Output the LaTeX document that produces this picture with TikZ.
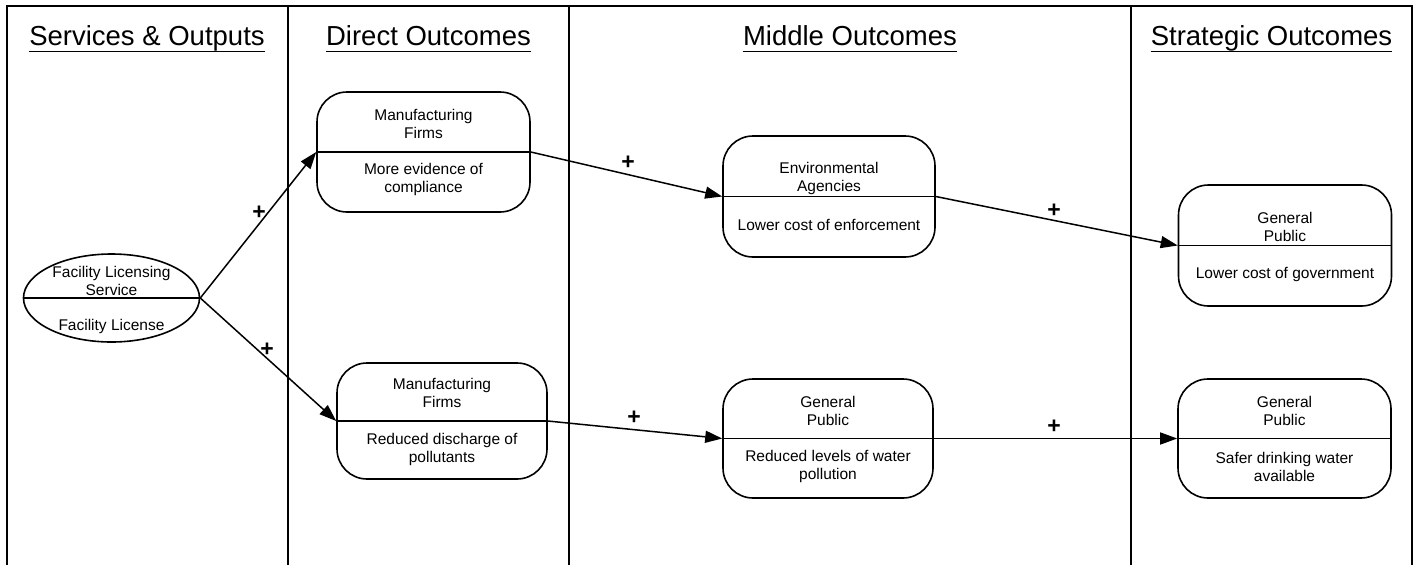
\documentclass[tikz,border=0pt]{standalone}
\usepackage{fontspec}
\setmainfont{Liberation Sans}
\usetikzlibrary{arrows.meta,calc,shapes.geometric}
\begin{document}
\begin{tikzpicture}[x=1pt,y=-1pt,
  frame/.style={line width=1.8pt},
  head/.style={font=\fontsize{27.5}{30}\selectfont, inner sep=0pt, anchor=base},
  box/.style={draw, line width=1.6pt, rounded corners=30pt, inner sep=0pt},
  oval/.style={draw, line width=1.6pt, ellipse, inner sep=0pt},
  split/.style={line width=1.5pt},
  txt/.style={font=\fontsize{15.5}{18}\selectfont, align=center, inner sep=0pt},
  link/.style={line width=1.5pt, -{Triangle[length=17pt,width=12pt]}},
  sign/.style={font=\bfseries\fontsize{23}{23}\selectfont, inner sep=0pt}]

\useasboundingbox (0,0) rectangle (1416,565);

% swim-lane frame
\coordinate (tl) at (7,6);
\coordinate (tr) at (1412,6);
\coordinate (bl) at (7,565);
\coordinate (br) at (1412,565);
\draw[frame] (bl) -- (tl) -- (tr) -- (br);
\foreach \x/\n in {288/a,569/b,1131/c}{
  \coordinate (lane\n top) at (\x,6);
  \coordinate (lane\n bot) at (\x,565);
  \draw[frame] (lane\n top) -- (lane\n bot);
}

% lane headings
\node[head] (h1) at (147,45) {Services \& Outputs};
\node[head] (h2) at (428.5,45) {Direct Outcomes};
\node[head] (h3) at (850,45) {Middle Outcomes};
\node[head] (h4) at (1271.5,45) {Strategic Outcomes};
\foreach \h in {h1,h2,h3,h4}{
  \draw[line width=1.3pt] ($(\h.base west)+(0,6.5)$) -- ($(\h.base east)+(0,6.5)$);
}

% service (ellipse)
\node[oval, minimum width=176pt, minimum height=88pt] (svc) at (111.5,298) {};
\draw[split] (svc.west) -- (svc.east);
\node[txt] (svcA) at ($(svc.center)+(0,-17)$) {Facility Licensing\\Service};
\node[txt] (svcB) at ($(svc.center)+(0,28)$) {Facility License};

% direct outcomes
\node[box, minimum width=213pt, minimum height=120pt] (mf1) at (423.5,152) {};
\draw[split] (mf1.west) -- (mf1.east);
\node[txt] (mf1A) at ($(mf1.center)+(0,-28)$) {Manufacturing\\Firms};
\node[txt] (mf1B) at ($(mf1.center)+(0,27)$) {More evidence of\\compliance};

\node[box, minimum width=210pt, minimum height=116pt] (mf2) at (442,421) {};
\draw[split] (mf2.west) -- (mf2.east);
\node[txt] (mf2A) at ($(mf2.center)+(0,-28)$) {Manufacturing\\Firms};
\node[txt] (mf2B) at ($(mf2.center)+(0,28)$) {Reduced discharge of\\pollutants};

% middle outcomes
\node[box, minimum width=212pt, minimum height=121pt] (ea) at (829,196.5) {};
\draw[split] (ea.west) -- (ea.east);
\node[txt] (eaA) at ($(ea.center)+(0,-18)$) {Environmental\\Agencies};
\node[txt] (eaB) at ($(ea.center)+(0,28)$) {Lower cost of enforcement};

\node[box, minimum width=210pt, minimum height=119pt] (gp2) at (828,438.5) {};
\draw[split] (gp2.west) -- (gp2.east);
\node[txt] (gp2A) at ($(gp2.center)+(0,-27.5)$) {General\\Public};
\node[txt] (gp2B) at ($(gp2.center)+(0,28)$) {Reduced levels of water\\pollution};

% strategic outcomes
\node[box, minimum width=213pt, minimum height=121pt] (gp1) at (1285,245.5) {};
\draw[split] (gp1.west) -- (gp1.east);
\node[txt] (gp1A) at ($(gp1.center)+(0,-19)$) {General\\Public};
\node[txt] (gp1B) at ($(gp1.center)+(0,29)$) {Lower cost of government};

\node[box, minimum width=213pt, minimum height=119pt] (gp3) at (1284.5,438.5) {};
\draw[split] (gp3.west) -- (gp3.east);
\node[txt] (gp3A) at ($(gp3.center)+(0,-27.5)$) {General\\Public};
\node[txt] (gp3B) at ($(gp3.center)+(0,28)$) {Safer drinking water\\available};

% causal links
\draw[link] (svc.east) -- (mf1.west);
\draw[link] (svc.east) -- (mf2.west);
\draw[link] (mf1.east) -- (ea.west);
\draw[link] (mf2.east) -- (gp2.west);
\draw[link] (ea.east) -- (gp1.west);
\draw[link] (gp2.east) -- (gp3.west);

% link polarity
\node[sign] (s1) at (259,213) {+};
\node[sign] (s2) at (267,350) {+};
\node[sign] (s3) at (628,163) {+};
\node[sign] (s4) at (634,418) {+};
\node[sign] (s5) at (1054,211) {+};
\node[sign] (s6) at (1054,427) {+};
\end{tikzpicture}
\end{document}
